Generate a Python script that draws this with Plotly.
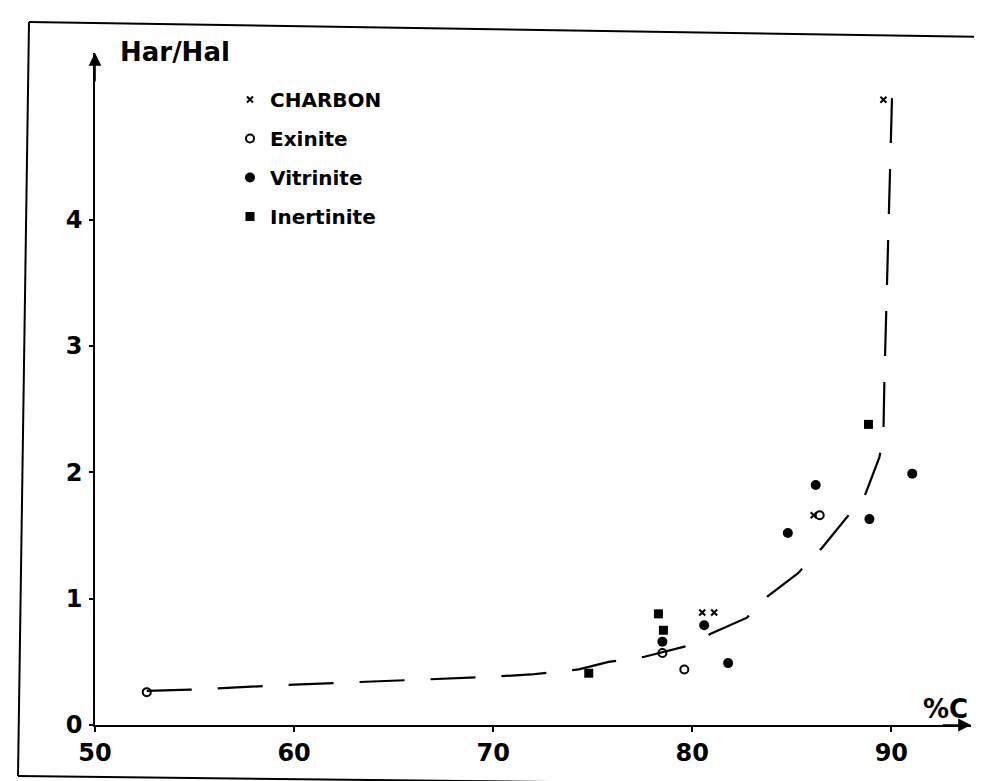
import plotly.graph_objects as go

# ---- data ----
charbon_x = [80.5, 81.1, 86.1, 89.6]
charbon_y = [0.89, 0.89, 1.66, 4.95]

exinite_x = [52.6, 78.5, 79.6, 86.4]
exinite_y = [0.26, 0.57, 0.44, 1.66]

vitrinite_x = [78.5, 80.6, 81.8, 84.8, 86.2, 88.9, 91.05]
vitrinite_y = [0.66, 0.79, 0.49, 1.52, 1.90, 1.63, 1.99]

inertinite_x = [74.8, 78.3, 78.55, 88.85]
inertinite_y = [0.41, 0.88, 0.75, 2.38]

curve_x = [52.6, 54.8, 60.0, 69.7, 71.9, 74.3, 75.8, 77.6, 80.1, 80.9, 82.75,
           83.8, 85.3, 86.5, 88.0, 88.7, 89.4, 89.6, 89.65, 89.8, 89.97, 90.06]
curve_y = [0.27, 0.28, 0.32, 0.38, 0.40, 0.44, 0.50, 0.54, 0.64, 0.72, 0.85,
           1.02, 1.20, 1.40, 1.69, 1.83, 2.12, 2.30, 2.73, 3.6, 4.59, 5.13]

x_ticks = [50, 60, 70, 80, 90]
y_ticks = [0, 1, 2, 3, 4]

FONT = "DejaVu Sans"

fig = go.Figure()

fig.add_trace(go.Scatter(
    x=curve_x, y=curve_y, mode="lines", showlegend=False,
    line=dict(color="black", width=2.2, dash="45px,26px"), hoverinfo="skip"))

fig.add_trace(go.Scatter(
    x=charbon_x, y=charbon_y, mode="markers", name="CHARBON", legendgroup="a",
    marker=dict(symbol="x-thin", size=6, color="black",
                line=dict(color="black", width=2))))
fig.add_trace(go.Scatter(
    x=exinite_x, y=exinite_y, mode="markers", name="Exinite", legendgroup="b",
    marker=dict(symbol="circle-open", size=8, color="black",
                line=dict(color="black", width=2))))
fig.add_trace(go.Scatter(
    x=vitrinite_x, y=vitrinite_y, mode="markers", name="Vitrinite", legendgroup="c",
    marker=dict(symbol="circle", size=10, color="black")))
fig.add_trace(go.Scatter(
    x=inertinite_x, y=inertinite_y, mode="markers", name="Inertinite", legendgroup="d",
    marker=dict(symbol="square", size=9, color="black")))

L, R, T, B = 87, 19, 45, 64
W, H = 982, 781
pw, ph = W - L - R, H - T - B


def px(x):
    return (x - L) / pw


def py(y):
    return (H - B - y) / ph


frame = [((21, 14), (980, 29)), ((21, 14), (10, 768)),
         ((10, 768), (980, 779)), ((980, 29), (980, 779))]
shapes = []
for (x0, y0), (x1, y1) in frame:
    shapes.append(dict(type="line", xref="paper", yref="paper",
                       x0=px(x0), y0=py(y0), x1=px(x1), y1=py(y1),
                       line=dict(color="black", width=2)))

annotations = [
    dict(text="<b>Har/Hal</b>", xref="paper", yref="paper", x=px(167), y=py(44),
         showarrow=False, font=dict(family=FONT, size=26, color="black"),
         xanchor="center", yanchor="middle"),
    dict(text="<b>%C</b>", xref="paper", yref="paper", x=px(937), y=py(701),
         showarrow=False, font=dict(family=FONT, size=26, color="black"),
         xanchor="center", yanchor="middle"),
    # axis arrowheads
    dict(x=94, y=0, xref="x", yref="y", ax=-30, ay=0, text="",
         showarrow=True, arrowhead=2, arrowsize=1.6, arrowwidth=1.6,
         arrowcolor="black"),
    dict(x=50, y=5.32, xref="x", yref="y", ax=0, ay=30, text="",
         showarrow=True, arrowhead=2, arrowsize=1.6, arrowwidth=1.6,
         arrowcolor="black"),
]

fig.update_layout(
    width=W, height=H,
    margin=dict(l=L, r=R, t=T, b=B),
    paper_bgcolor="white", plot_bgcolor="white",
    font=dict(family=FONT, color="black"),
    shapes=shapes, annotations=annotations,
    legend=dict(x=px(222), y=py(72), xanchor="left", yanchor="top",
                font=dict(family=FONT, size=20, color="black", weight="bold"),
                bgcolor="rgba(0,0,0,0)", tracegroupgap=10,
                itemsizing="trace"),
    xaxis=dict(range=[50, 94], showgrid=False, zeroline=False,
               showline=True, linecolor="black", linewidth=1.6,
               tickvals=x_ticks, ticktext=[str(v) for v in x_ticks],
               ticks="outside", ticklen=5, tickcolor="black", tickwidth=1.5,
               tickfont=dict(family=FONT, size=24, color="black", weight="bold"),
               ticklabelstandoff=0),
    yaxis=dict(range=[0, 5.32], showgrid=False, zeroline=False,
               showline=True, linecolor="black", linewidth=1.6,
               tickvals=y_ticks, ticktext=[str(v) for v in y_ticks],
               ticks="outside", ticklen=4, tickcolor="black", tickwidth=1.5,
               tickfont=dict(family=FONT, size=24, color="black", weight="bold"),
               ticklabelstandoff=2),
)

fig.write_html("out.html")
